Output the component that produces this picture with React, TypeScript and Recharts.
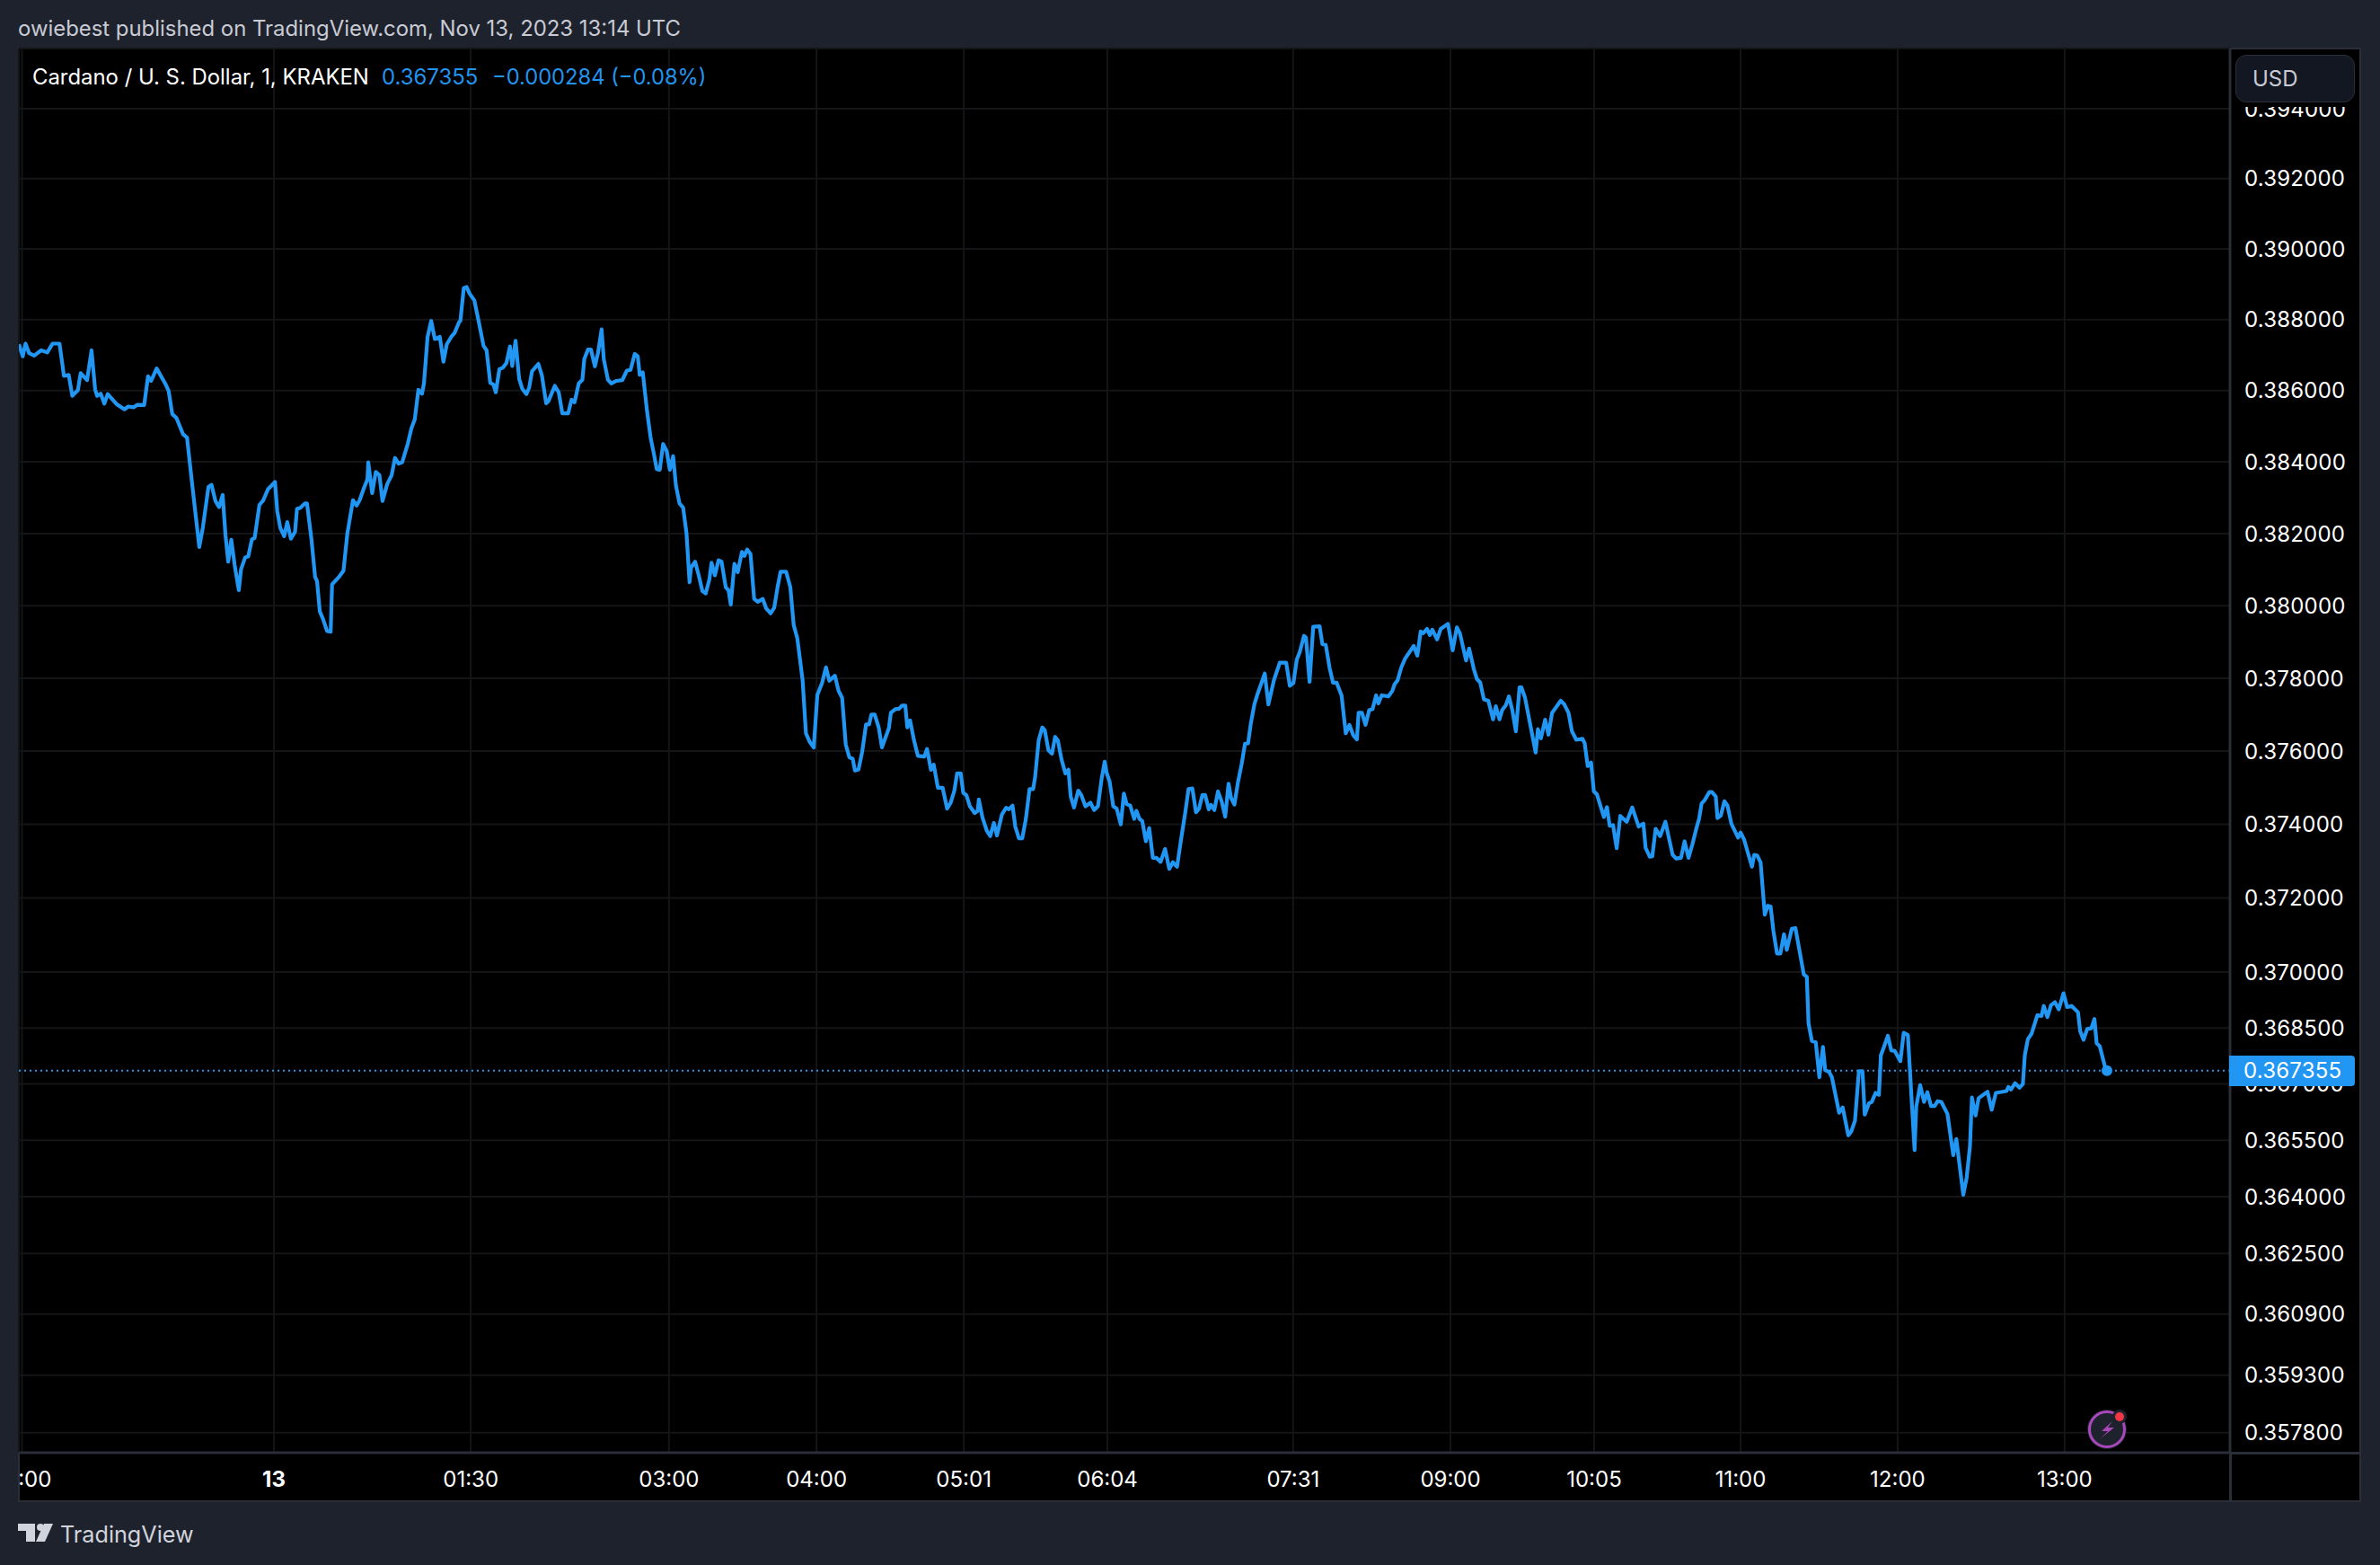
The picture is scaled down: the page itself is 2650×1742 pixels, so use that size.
import React from "react";
import { LineChart, Line, XAxis, YAxis, CartesianGrid, ReferenceLine, ReferenceDot } from "recharts";

// Bar index (1-minute bars counted from the left edge of the plot)
const bars: number[] = [
  0,1.4,2.4,3.7,5.5,8,10.2,12.1,14.6,16.2,17.9,19.2,21.2,22.2,24.5,26.1,27.4,28.1,29.4,30.7,31.9,35.2,38,39.3,41.3,42.6,45,46.4,47.5,49.5,52.8,53.8,55.1,56.6,59,60.4,62.3,64.8,66.1,68.1,69.2,70.6,71.9,73.2,74.2,75.2,76.3,77.5,79,79.8,81.3,82.4,83.7,84.7,86.4,87.8,89.5,92,92.8,93.9,95.3,96.4,97.7,99.2,99.9,101,102.7,103.5,105.1,106.4,107.1,108.1,109.2,110.7,112,112.5,115,116.6,118,120,121.3,122.4,124.1,125.2,125.5,126.9,128.2,129.5,130.6,132.3,133.9,135.1,136.4,137.7,139.7,141,142.2,143.5,144.8,145.5,146.8,148.1,149.4,151.2,152.5,153.7,155.3,156.5,158.1,158.6,159.8,160.8,161.9,163.6,165.2,166.9,168,169.3,170.5,171.3,172.6,173.8,175.1,176.4,177.2,178.4,179.7,180.8,182.3,183.3,184.3,186.6,187.9,189.4,190.2,192.5,193.9,195.2,197.3,198.5,199.6,201.1,202.4,203.1,204.4,205.5,206.9,208,209.3,210.1,211.6,212.8,214.6,216.7,218.4,219.7,221.2,222.3,223,224.1,225.6,226.9,228.2,229.1,230.2,231.4,232.7,233.8,235,236,237.3,238.6,239.8,240.9,241.4,242.9,244.2,245.5,246.7,248,248.8,250,251.3,
  252.4,253.9,254.9,255.7,257,258.2,259.7,260.6,261.6,262.8,264.1,265.4,267.2,268.4,270,271.3,272.5,273.6,275.6,277.1,278.3,279.6,281.5,282.7,284,285.5,286.8,288.5,289.9,291.1,293.1,294.4,295.7,297,298.3,299.5,300.3,301.6,302.9,304.3,305.4,306.2,307.4,308.9,310,312.5,313.2,314.8,316.1,317.3,318.4,319.1,320.1,321.5,322.9,325.2,326.2,327.6,328.6,330.1,331.8,333.4,334.7,336,337,338.3,339.2,340.3,341.6,343.3,344.4,344.8,346.1,347.7,348.9,350.2,351.3,353.1,354.6,355.6,356.9,357.9,359.2,360.4,361.7,363,364.3,365,366.3,367.6,368.5,369.8,371.1,372.2,373.2,374.5,375.9,377,377.8,379,380.5,381.6,383.1,384.9,386.2,387.6,388.9,390,390.7,391.8,393.1,394.3,395.8,396.9,397.9,399.2,400.6,401.4,402.5,403.5,404.8,406,407.3,408.6,410.1,411.7,413.2,414.5,416,417.5,419,420.1,421.5,422.8,423.9,425.1,426.1,427.4,428.2,429.4,430.7,432,433.3,434.5,435.4,436.6,437.9,439.2,440.4,441.5,442.5,443.8,444.8,447.5,448.8,450.8,452.9,455.2,456.5,457.8,459,460.1,461.6,462.3,463.6,464.9,467.2,468.2,469.4,470.8,472,473.3,475.1,476.6,
  477.9,479.3,480.6,481.2,482.4,483.7,485,486.2,487.5,488.3,489.5,491.9,493.3,494.1,495.2,496.5,497.9,501,502.3,503.5,504.4,505.8,506.8,507.7,509.4,510.7,513.3,515,516.5,517.6,519.8,520.9,522.6,523.7,524.9,526.2,527.8,529.5,530.5,531.8,532.8,534.1,535.2,536.4,537.7,539,539.7,541,544.8,545.6,546.7,548.2,549.4,550.7,553.8,555.1,556.6,557.8,559.4,561.6,562.4,563.5,564.7,565.7,566.8,569.3,570.4,571.4,572.6,573.9,575.2,577.5,579.5,581.8,583.5,584.3,585.8,586.7,587.9,589.5,591.4,594,595.3,597,598.3,599.7,601.1,602.7,603.5,604.4,605.5,607.2,608.1,609.5,610.1,611.3,612.6,613.7,615.1,617.5,618.4,619.7,621.1,622.5,623.3,624.4,625.6,627.1,628.2,629.2,630.2,631.5,632.7,634,635,636.8,638.1,641.1,642.2,
  642.8,644,645.4,646.7,648,648.8,650.2,651.2,653.8,655.1,657.1,658.2,659.5,660.9,662.2,663,664.5,665.5,666.9,668.1,668.8,669.8,671.3,672.5,673.8,675.8,677,678.5,680.9,681.5,682.9,684.3,685.5,686.8,688.1,689.2,690.5,692.7,694.8,695.9,698.4,699.6,700.8,701.5,702.8,703.9,707.1,708.6,710.1,713.9,714.6,715.5,717,718.6,719.8,720.5,721.6,722.9,725,726.5,727.3,728.6,729.9,731.3,732.7,734.4,735.7,737.3,739.6,740.4,741.6,742.9,744.4,745.5,746.3,747.4,749.4,750,
];

// Closing price in millionths of a US dollar
const closes: number[] = [
  387300,386960,387320,387050,386980,387130,387070,387320,387320,386410,386440,385850,386010,386490,386290,387130,386030,385850,385910,385630,385900,385610,385470,385550,385530,385600,385590,386400,386270,386620,386160,385990,385340,385230,384770,384680,383340,381630,382180,383300,383360,382910,382740,383080,381970,381220,381830,381130,380430,381010,381340,381370,381840,381880,382800,382930,383240,383440,382630,382160,381930,382320,381860,382050,382690,382710,382840,382840,381840,380800,380680,379840,379640,379300,379280,380590,380800,380970,382010,382930,382780,382930,383300,383510,383990,383130,383720,383630,382910,383380,383630,384110,383950,383990,384510,384940,385190,386020,385910,386200,387510,387960,387450,387510,386810,387300,387510,387620,387920,387970,388890,388920,388730,388540,387930,387260,387130,386220,386160,385950,386600,386640,386770,387240,386690,387400,386330,386050,385900,386080,386540,386750,386410,385640,385700,386130,385950,385360,385360,385740,385670,386200,386300,386890,387150,387150,386680,387050,387720,386880,386300,386200,386270,386290,386560,386580,387030,386960,386440,386510,385440,384680,384180,383800,383780,384500,384300,383780,384160,383340,382840,382720,382010,380650,381050,381220,380840,380410,380340,380720,381190,380840,381260,
  381220,380510,380430,380030,381160,380930,381490,381380,381560,381430,380190,380110,380190,379930,379790,379940,380510,380940,380940,380510,379470,379100,377950,376490,376260,376100,377540,377870,378300,377930,378070,377660,377460,376180,375830,375790,375470,375500,375980,376730,376730,377000,377000,376630,376100,376630,377050,377150,377160,377250,377250,376650,376840,376300,375870,375850,376060,375490,375630,375000,375000,374430,374590,374920,375390,375390,374860,374800,374490,374310,374370,374680,374190,373820,373680,374040,373700,374270,374450,374410,374510,373940,373620,373620,374150,374960,374960,375280,376300,376650,376570,376020,375930,376390,376290,375770,375390,375490,374760,374460,374920,374800,374490,374590,374390,374500,375240,375710,375410,375160,374490,374430,374000,374840,374550,374510,374150,374370,374150,374090,373540,373900,373090,373090,372980,373330,372790,372970,372850,373620,374350,374960,374980,374330,374430,374800,374800,374410,374530,374390,374900,374630,374210,375110,374720,374540,375160,375650,376200,376210,376760,377290,377540,378130,377280,377950,378430,378430,377790,377870,378510,378730,379170,379120,377900,379420,379430,378940,378920,378280,377880,377880,377520,376490,
  376720,376430,376320,377050,377050,376720,377120,377150,377530,377310,377530,377500,377650,377830,377940,378290,378540,378890,378620,379290,379240,379360,379190,379340,379070,379360,379500,378770,379400,379240,378490,378820,378250,377980,377880,377420,377380,376870,377230,376870,377130,377260,377500,377130,376540,377750,377750,377460,375960,376600,376350,376860,376450,377050,377380,377280,377050,376550,376310,376340,376220,375590,375690,374900,374820,374200,374470,373960,373980,373350,374230,374070,374460,373940,374020,373360,373120,373130,373880,373680,374070,373170,373070,373090,373540,373090,373460,373940,374150,374570,374660,374880,374880,374760,374170,374240,374630,374510,374020,373640,373780,373580,373210,372850,373170,373150,372960,371550,371790,371770,371110,370500,370500,371020,370600,371170,371190,369940,369870,
  368630,368150,368120,367180,367990,367370,367320,367180,366230,366370,365630,365740,366020,367340,367340,366180,366480,366520,366760,366710,367770,367970,368290,367900,367880,367610,368370,368310,365240,366390,366970,366520,366780,366410,366410,366540,366520,366200,365100,365530,364050,364500,365340,366640,366160,366620,366790,366310,366760,366810,366920,366850,367020,366900,367000,367770,368200,368340,368840,368820,369090,368790,369110,369190,369000,369430,369060,369090,368920,368410,368180,368470,368490,368740,368090,368010,367430,367355,
];

const priceTicks: number[] = [394000,392000,390000,388000,386000,384000,382000,380000,378000,376000,374000,372000,370000,368500,367000,365500,364000,362500,360900,359300,357800];
const timeTickBars: number[] = [1.1,91.6,162.3,233.5,286.5,339.4,391,457.7,514.2,565.8,618.4,674.8,734.8];
const timeTickLabels: string[] = [":00","13","01:30","03:00","04:00","05:01","06:04","07:31","09:00","10:05","11:00","12:00","13:00"];

const lastPrice = 367355;
const lastBar = 750;
const BLUE = "#2196f3";
const FONT = "Inter, Roboto, sans-serif";

const chartData = bars.map((bar, i) => ({ bar, close: closes[i] }));

const TimeTick = (props: any) => {
  const { x, y, payload } = props;
  const label = timeTickLabels[timeTickBars.indexOf(payload.value)] ?? "";
  const clipped = label.startsWith(":");
  return (
    <text
      x={clipped ? x + 33 : x}
      y={y + 21}
      dy="0.36em"
      textAnchor={clipped ? "end" : "middle"}
      fill="#ffffff"
      fontFamily={FONT}
      fontSize={24}
      fontWeight={label === "13" ? 700 : 400}
    >
      {label}
    </text>
  );
};

const PriceTick = (props: any) => {
  const { x, y, payload } = props;
  return (
    <text x={x + 8} y={y} dy="0.36em" textAnchor="start" fill="#ffffff" fontFamily={FONT} fontSize={24} letterSpacing={0.2}>
      {(payload.value / 1e6).toFixed(6)}
    </text>
  );
};

const abs = (left: number, top: number, extra: React.CSSProperties = {}): React.CSSProperties => ({
  position: "absolute",
  left,
  top,
  fontFamily: FONT,
  whiteSpace: "nowrap",
  ...extra,
});

export default function App() {
  return (
    <div style={{ position: "absolute", left: 0, top: 0, width: 2650, height: 1742, background: "#1e222d", overflow: "hidden" }}>
      <div style={abs(20, 16, { color: "#c8cad4", fontSize: 23.9, lineHeight: "32px" })}>owiebest published on TradingView.com, Nov 13, 2023 13:14 UTC</div>

      <div style={{ position: "absolute", left: 20, top: 53, width: 2609, height: 1619, background: "#000", boxSizing: "border-box", border: "2px solid #2a2e39" }} />

      <div style={{ position: "absolute", left: 0, top: 0 }}>
        <LineChart width={2650} height={1742} data={chartData} margin={{ top: 54, right: 21, bottom: 70, left: 21 }}>
          <CartesianGrid stroke="#141517" strokeWidth={2} />
          <XAxis
            dataKey="bar"
            type="number"
            domain={[0, 794.2]}
            ticks={timeTickBars}
            interval={0}
            height={55}
            tick={<TimeTick />}
            tickLine={false}
            axisLine={{ stroke: "#2a2e39", strokeWidth: 3 }}
            allowDataOverflow
          />
          <YAxis
            orientation="right"
            dataKey="close"
            type="number"
            scale="log"
            domain={[357280, 395730]}
            ticks={priceTicks}
            interval={0}
            width={146}
            tick={<PriceTick />}
            tickLine={false}
            axisLine={{ stroke: "#2a2e39", strokeWidth: 3 }}
            allowDataOverflow
          />
          <ReferenceLine y={lastPrice} stroke={BLUE} strokeWidth={2} strokeDasharray="2 4" />
          <Line
            type="linear"
            dataKey="close"
            stroke={BLUE}
            strokeWidth={4.2}
            dot={false}
            strokeLinejoin="round"
            isAnimationActive={false}
          />
          <ReferenceDot x={lastBar} y={lastPrice} r={6} fill={BLUE} stroke="none" />
        </LineChart>
      </div>

      <div style={{ position: "absolute", left: 2483, top: 1616, width: 146, height: 3, background: "#2a2e39" }} />
      <div style={{ position: "absolute", left: 2482, top: 1616, width: 3, height: 56, background: "#2a2e39" }} />

      <div style={abs(36, 70, { color: "#ffffff", fontSize: 23.9, lineHeight: "32px" })}>Cardano / U. S. Dollar, 1, KRAKEN</div>
      <div style={abs(425, 70, { color: "#2394ee", fontSize: 23.9, lineHeight: "32px" })}>0.367355</div>
      <div style={abs(548, 70, { color: "#2394ee", fontSize: 23.7, lineHeight: "32px" })}>−0.000284 (−0.08%)</div>

      <div style={{ position: "absolute", left: 2485, top: 55, width: 142, height: 64, background: "#000" }} />
      <div style={{ position: "absolute", left: 2489, top: 61, width: 133, height: 53, boxSizing: "border-box", background: "#131722", border: "1.5px solid #2a2e39", borderRadius: 12 }} />
      <div style={abs(2508, 72, { color: "#c8cad6", fontSize: 24, lineHeight: "32px" })}>USD</div>

      <div style={{ position: "absolute", left: 2482, top: 1175, width: 140, height: 34, background: BLUE, borderRadius: "0 4px 4px 0" }} />
      <div style={abs(2498, 1176, { color: "#ffffff", fontSize: 24, lineHeight: "32px", letterSpacing: 0.2 })}>0.367355</div>

      <svg style={{ position: "absolute", left: 2320, top: 1565 }} width={54} height={54} viewBox="0 0 54 54">
        <circle cx={26} cy={26} r={22} fill="#1e222d" />
        <circle cx={26} cy={26} r={19.5} fill="none" stroke="#ab47bc" strokeWidth={3} />
        <path d="M32 17 L20 28 H27 L19 36 L34 24 H27 Z" fill="#ab47bc" />
        <circle cx={40} cy={12} r={8} fill="#1e222d" />
        <circle cx={40} cy={12} r={5} fill="#f23645" />
      </svg>

      <svg style={{ position: "absolute", left: 20, top: 1696 }} width={40} height={20} viewBox="0 0 40 20">
        <path d="M0 0H19V20H9V8H0Z" fill="#d1d4dc" />
        <circle cx={25} cy={4} r={4} fill="#d1d4dc" />
        <path d="M39 0L30 20H20L29 0Z" fill="#d1d4dc" />
      </svg>
      <div style={abs(67, 1692, { color: "#d1d4dc", fontSize: 25.2, lineHeight: "32px" })}>TradingView</div>
    </div>
  );
}
